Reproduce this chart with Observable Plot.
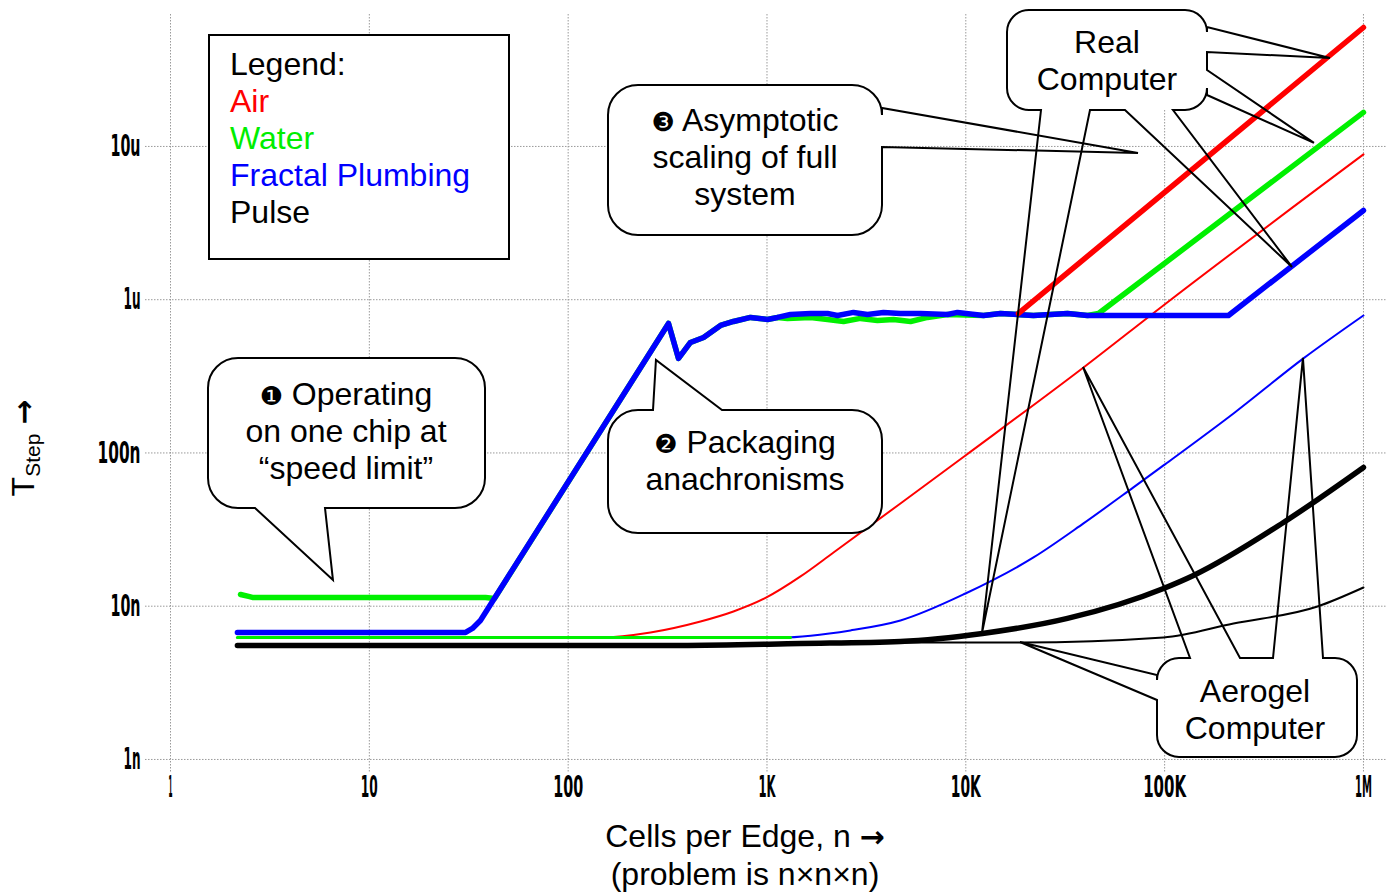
<!DOCTYPE html>
<html><head><meta charset="utf-8">
<script src="https://cdn.jsdelivr.net/npm/d3@7"></script>
<script src="https://cdn.jsdelivr.net/npm/@observablehq/plot@0.6"></script>
<style>body{margin:0;background:#fff}</style>
</head><body><div id="chart"></div>
<script>
// ---- axes ----
const xTicks = [1, 10, 100, 1e3, 1e4, 1e5, 1e6];
const xTickLabels = ["1", "10", "100", "1K", "10K", "100K", "1M"];
const yTicks = [1, 10, 100, 1000, 10000];            // nanoseconds
const yTickLabels = ["1n", "10n", "100n", "1u", "10u"];

// ---- series: [cells per edge n, T_step in ns] ----
// "Real Computer" (thick lines)
const airReal = [[18400, 813], [1e6, 59720]];
const waterReal = [[2.25, 11.93], [2.47, 11.58], [2.58, 11.41], [38.4, 11.41], [42.6, 11.23], [319.6, 700], [358.9, 414], [412, 526], [479.7, 567], [583.6, 679], [678, 721], [826, 766], [1006, 743], [1129, 766], [1268, 755], [1656, 766], [2015, 743], [2427, 721], [2952, 755], [3594, 732], [4328, 743], [5272, 721], [6418, 766], [8087, 801], [12270, 789], [14940, 813], [21880, 789], [32450, 813], [40920, 789], [46490, 813], [1e6, 16670]];
const fractalReal = [[2.17, 6.74], [30.5, 6.74], [33.0, 7.16], [36.2, 8.07], [319.6, 700], [358.9, 414], [412, 526], [479.7, 567], [583.6, 679], [678, 721], [826, 766], [1006, 743], [1129, 766], [1313, 801], [1656, 813], [2015, 813], [2263, 789], [2724, 826], [3202, 801], [3853, 826], [4690, 813], [5914, 813], [8087, 801], [9080, 826], [12270, 789], [14940, 813], [21880, 789], [32450, 813], [40920, 789], [69660, 789], [209400, 789], [1e6, 3822]];
const pulseReal = [[2.17, 5.55], [367, 5.55], [1475, 5.71], [4690, 5.89], [12130, 6.64], [32450, 8.32], [98700, 13.06], [139600, 15.88], [396000, 35.2], [1e6, 80.4]];
// "Aerogel Computer" (thin lines)
const airAerogel = [[2.17, 6.25], [145.5, 6.25], [259.5, 6.74], [463, 7.95], [678, 9.24], [994, 11.41], [1475, 15.64], [2161, 22.4], [4690, 46.8], [9960, 96.3], [39080, 361], [98500, 917], [1e6, 8870]];
const waterAerogel = [[2.17, 6.25], [1313, 6.25]];
const fractalAerogel = [[2.17, 6.25], [1170, 6.25], [2630, 6.95], [4690, 8.07], [9960, 12.1], [21900, 20.8], [39080, 34.7], [69660, 59.6], [98700, 82.9], [222000, 181], [499000, 414], [1e6, 789]];
const pulseAerogel = [[2.17, 5.55], [367, 5.55], [1475, 5.71], [4690, 5.8], [18840, 5.8], [98700, 6.25], [222000, 7.72], [587000, 9.96], [1e6, 13.25]];

const legendItems = ["Air", "Water", "Fractal Plumbing", "Pulse"];
const legendColors = ["#ff0000", "#00ee00", "#0000ff", "#000000"];

const xFmt = new Map(xTicks.map((d, i) => [d, xTickLabels[i]]));
const yFmt = new Map(yTicks.map((d, i) => [d, yTickLabels[i]]));

const RED = "#ff0000", GREEN = "#00f000", BLUE = "#0000ff";
const lineOpts = (stroke, w, curve) => ({x: d => d[0], y: d => d[1], stroke, strokeWidth: w, curve, strokeLinejoin: "round"});

const chart = Plot.plot({
  width: 1392, height: 895,
  marginLeft: 145, marginRight: 6, marginTop: 14, marginBottom: 123,
  x: {type: "log", domain: [0.7485, 1.3058e6]},
  y: {type: "log", domain: [0.822, 72600]},
  style: {background: "#fff", fontFamily: "'Liberation Sans', Arial, sans-serif"},
  marks: [
    Plot.gridX(xTicks, {stroke: "#9a9a9a", strokeOpacity: 1, strokeDasharray: "1.5,1.5"}),
    Plot.gridY(yTicks, {stroke: "#9a9a9a", strokeOpacity: 1, strokeDasharray: "1.5,1.5"}),
    Plot.axisX(xTicks, {tickSize: 0, tickPadding: 3, tickFormat: d => xFmt.get(d), fontSize: 30, fontWeight: "bold", fontFamily: "'DejaVu Sans', sans-serif", label: null}),
    Plot.axisY(yTicks, {tickSize: 0, tickPadding: 5, tickFormat: d => yFmt.get(d), fontSize: 30, fontWeight: "bold", fontFamily: "'DejaVu Sans', sans-serif", label: null}),
    Plot.line(pulseAerogel, lineOpts("#000", 2, "monotone-x")),
    Plot.line(airAerogel, lineOpts(RED, 2, "monotone-x")),
    Plot.line(fractalAerogel, lineOpts(BLUE, 2, "monotone-x")),
    Plot.line(waterAerogel, lineOpts(GREEN, 3, "linear")),
    Plot.line(pulseReal, lineOpts("#000", 5.5, "monotone-x")),
    Plot.line(waterReal, lineOpts(GREEN, 5.5, "linear")),
    Plot.line(fractalReal, lineOpts(BLUE, 5.5, "linear")),
    Plot.line(airReal, lineOpts(RED, 5.5, "linear"))
  ]
});
document.getElementById("chart").append(chart);

const svg = d3.select(chart);
const xs = chart.scale("x"), ys = chart.scale("y");
const X = v => xs.apply(v), Y = v => ys.apply(v);

// narrow the tick labels horizontally (display style of the original axis font)
const tickW = s => [...s].reduce((a, c) => a + (c === "1" ? 4 : 10), 0) + 3 * (s.length - 1);
svg.selectAll("g[aria-label$='tick label'] text").each(function () {
  const natural = this.getComputedTextLength();
  if (!natural) return;
  const sx = tickW(this.textContent) / natural;
  const t = this.getAttribute("transform") || "";
  this.setAttribute("transform", `${t} scale(${sx},1)`);
});

const FONT = "'Liberation Sans', Arial, sans-serif";
const ARROW_FONT = "'DejaVu Sans', sans-serif";
const ann = svg.append("g").attr("font-family", FONT).attr("font-size", 32).attr("text-anchor", "start");

// axis titles
const yt = ann.append("text").attr("transform", "translate(34,448) rotate(-90)").attr("text-anchor", "middle");
yt.append("tspan").text("T");
yt.append("tspan").attr("font-size", 21).attr("dy", 6).text("Step");
yt.append("tspan").attr("dy", -6).text(" ");
yt.append("tspan").attr("font-family", ARROW_FONT).attr("font-size", 30).attr("font-weight", "bold").text("→");
const xl = ann.append("text").attr("x", 745).attr("y", 847).attr("text-anchor", "middle");
xl.append("tspan").text("Cells per Edge, n ");
xl.append("tspan").attr("font-family", ARROW_FONT).attr("font-size", 30).attr("font-weight", "bold").text("→");
ann.append("text").attr("x", 745).attr("y", 885).attr("text-anchor", "middle").text("(problem is n×n×n)");

// legend
ann.append("rect").attr("x", 209).attr("y", 35).attr("width", 300).attr("height", 224)
  .attr("fill", "#fff").attr("stroke", "#000").attr("stroke-width", 2);
ann.append("text").attr("x", 230).attr("y", 75).attr("text-anchor", "start").text("Legend:");
legendItems.forEach((t, i) => ann.append("text").attr("x", 230).attr("y", 112 + 37 * i)
  .attr("text-anchor", "start").attr("fill", legendColors[i]).text(t));

// callouts: box in layout pixels, pointer tips at data coordinates
const callouts = [
  {lines: ["❶ Operating", "on one chip at", "“speed limit”"], box: [208, 358, 485, 508], r: 30, cx: 346, base: 405,
   wedges: [{side: "bottom", a: 255, b: 325, tip: [6.6, 14.7]}]},
  {lines: ["❷ Packaging", "anachronisms"], box: [608, 410, 882, 533], r: 30, cx: 745, base: 453,
   wedges: [{side: "top", a: 653, b: 722, tip: [278, 401]}]},
  {lines: ["❸ Asymptotic", "scaling of full", "system"], box: [608, 85, 882, 235], r: 30, cx: 745, base: 131,
   wedges: [{side: "right", a: 108, b: 147, tip: [73860, 9000]}]},
  {lines: ["Real", "Computer"], box: [1007, 10, 1207, 110], r: 22, cx: 1107, base: 53,
   wedges: [{side: "right", a: 27, b: 52, tip: [682000, 37500]},
            {side: "right", a: 70, b: 95, tip: [567000, 10470]},
            {side: "bottom", a: 1041, b: 1090, tip: [12130, 6.64]},
            {side: "bottom", a: 1125, b: 1173, tip: [439600, 1623]}]},
  {lines: ["Aerogel", "Computer"], box: [1157, 658, 1357, 757], r: 22, cx: 1255, base: 702,
   wedges: [{side: "left", a: 675, b: 700, tip: [18840, 5.8]},
            {side: "top", a: 1190, b: 1240, tip: [39080, 361]},
            {side: "top", a: 1273, b: 1323, tip: [499000, 414]}]}
];

function calloutPath(c) {
  const [x0, y0, x1, y1] = c.box, r = c.r;
  const ws = s => c.wedges.filter(w => w.side === s);
  const T = w => `L${X(w.tip[0])},${Y(w.tip[1])}`;
  let p = `M${x0 + r},${y0}`;
  ws("top").sort((a, b) => a.a - b.a).forEach(w => p += `L${w.a},${y0}${T(w)}L${w.b},${y0}`);
  p += `L${x1 - r},${y0}A${r},${r} 0 0 1 ${x1},${y0 + r}`;
  ws("right").sort((a, b) => a.a - b.a).forEach(w => p += `L${x1},${w.a}${T(w)}L${x1},${w.b}`);
  p += `L${x1},${y1 - r}A${r},${r} 0 0 1 ${x1 - r},${y1}`;
  ws("bottom").sort((a, b) => b.b - a.b).forEach(w => p += `L${w.b},${y1}${T(w)}L${w.a},${y1}`);
  p += `L${x0 + r},${y1}A${r},${r} 0 0 1 ${x0},${y1 - r}`;
  ws("left").sort((a, b) => b.b - a.b).forEach(w => p += `L${x0},${w.b}${T(w)}L${x0},${w.a}`);
  p += `L${x0},${y0 + r}A${r},${r} 0 0 1 ${x0 + r},${y0}Z`;
  return p;
}

callouts.forEach(c => {
  const [x0, y0, x1, y1] = c.box;
  ann.append("rect").attr("x", x0).attr("y", y0).attr("width", x1 - x0).attr("height", y1 - y0)
    .attr("rx", c.r).attr("fill", "#fff");
  ann.append("path").attr("d", calloutPath(c)).attr("fill", "none").attr("stroke", "#000")
    .attr("stroke-width", 2).attr("stroke-linejoin", "miter");
  c.lines.forEach((t, i) => {
    const te = ann.append("text").attr("x", c.cx).attr("y", c.base + 37 * i).attr("text-anchor", "middle");
    const m = t.match(/^([❶❷❸])\s(.*)$/);
    if (m) {
      te.append("tspan").attr("font-family", "'DejaVu Sans', sans-serif").attr("font-size", 26).text(m[1]);
      te.append("tspan").text(" " + m[2]);
    } else te.text(t);
  });
});
</script>
</body></html>
